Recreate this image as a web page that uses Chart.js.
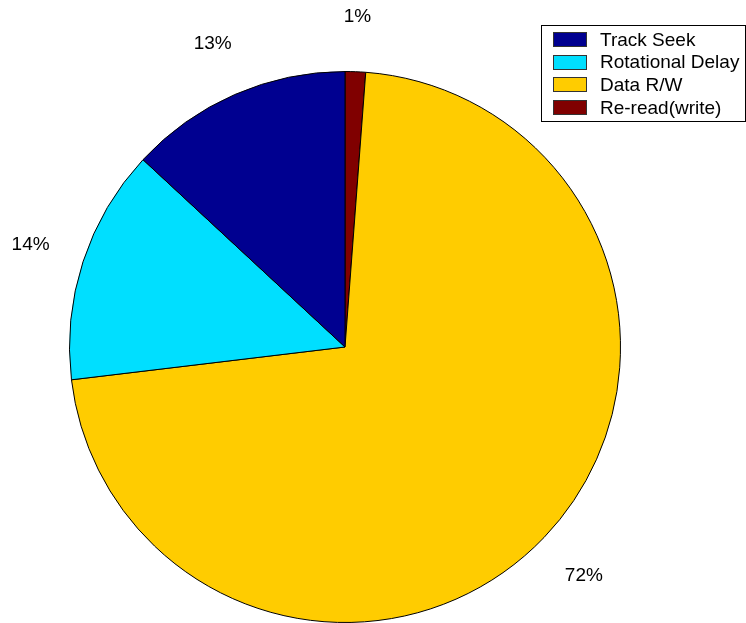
<!DOCTYPE html>
<html>
<head>
<meta charset="utf-8">
<script src="https://cdn.jsdelivr.net/npm/chart.js@4/dist/chart.umd.min.js"></script>
<style>
html,body{margin:0;padding:0;background:#fff;}
#wrap{width:746px;height:623px;position:relative;}
</style>
</head>
<body>
<div id="wrap"><canvas id="c" width="746" height="623"></canvas></div>
<script>
// Legend order (as in the reference)
const categories = ['Track Seek', 'Rotational Delay', 'Data R/W', 'Re-read(write)'];
const shares = [13.1, 13.8, 71.9, 1.2];
const pctLabels = ['13%', '14%', '72%', '1%'];
const colors = ['#000090', '#00DFFF', '#FFCC00', '#800000'];

// The reference pie runs counter-clockwise from 12 o'clock; Chart.js runs clockwise,
// so feed the slices in reverse order.
const order = [3, 2, 1, 0];
const dLabels = order.map(i => categories[i]);
const dValues = order.map(i => shares[i]);
const dColors = order.map(i => colors[i]);
const dPct = order.map(i => pctLabels[i]);

const FONT = '"Liberation Sans", Arial, sans-serif';

const outsideLabels = {
  id: 'outsideLabels',
  afterDatasetsDraw(chart) {
    const ctx = chart.ctx;
    const meta = chart.getDatasetMeta(0);
    ctx.save();
    ctx.font = '19px ' + FONT;
    ctx.fillStyle = '#000';
    ctx.textAlign = 'center';
    ctx.textBaseline = 'middle';
    meta.data.forEach((arc, i) => {
      const p = arc.getProps(['x', 'y', 'startAngle', 'endAngle', 'outerRadius'], true);
      const mid = (p.startAngle + p.endAngle) / 2;
      const r = p.outerRadius * 1.2;
      ctx.fillText(dPct[i], p.x + Math.cos(mid) * r, p.y + Math.sin(mid) * r);
    });
    ctx.restore();
  }
};

const boxLegend = {
  id: 'boxLegend',
  afterDraw(chart) {
    const ctx = chart.ctx;
    ctx.save();
    const left = 541.5, top = 25.5, right = 745.5, bottom = 121.5;
    ctx.fillStyle = '#fff';
    ctx.fillRect(left, top, right - left, bottom - top);
    ctx.strokeStyle = '#000';
    ctx.lineWidth = 1;
    ctx.strokeRect(left, top, right - left, bottom - top);
    ctx.font = '19px ' + FONT;
    ctx.textBaseline = 'middle';
    ctx.textAlign = 'left';
    categories.forEach((name, i) => {
      const cy = 39.5 + i * 22.7;
      ctx.fillStyle = colors[i];
      ctx.fillRect(553, Math.round(cy - 7.5), 34, 15);
      ctx.strokeStyle = '#333';
      ctx.strokeRect(553.5, Math.round(cy - 7.5) + 0.5, 33, 14);
      ctx.fillStyle = '#000';
      ctx.fillText(name, 600, cy + 1);
    });
    ctx.restore();
  }
};

new Chart(document.getElementById('c'), {
  type: 'pie',
  data: {
    labels: dLabels,
    datasets: [{
      data: dValues,
      backgroundColor: dColors,
      borderColor: '#000',
      borderWidth: 1,
      hoverOffset: 0
    }]
  },
  options: {
    responsive: false,
    animation: false,
    rotation: 0,
    layout: { padding: { left: 69, right: 125, top: 71, bottom: 0 } },
    plugins: {
      legend: { display: false },
      tooltip: { enabled: false },
      title: { display: false }
    }
  },
  plugins: [outsideLabels, boxLegend]
});
</script>
</body>
</html>
